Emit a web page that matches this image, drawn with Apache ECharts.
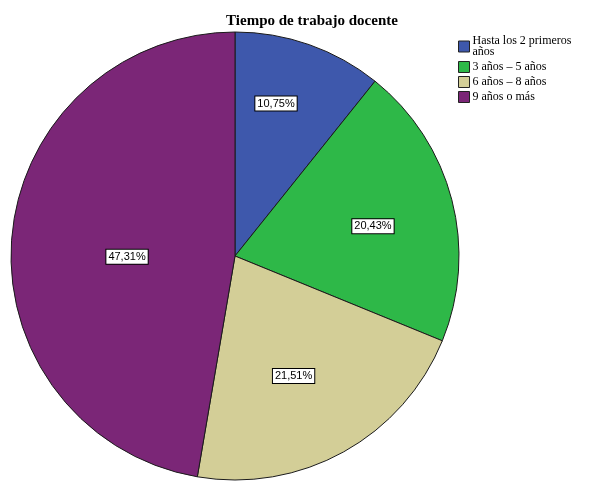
<!DOCTYPE html>
<html>
<head>
<meta charset="utf-8">
<script src="https://cdn.jsdelivr.net/npm/echarts@6/dist/echarts.min.js"></script>
<style>
  html, body { margin: 0; padding: 0; background: #fff; }
  #chart { width: 600px; height: 483px; }
</style>
</head>
<body>
<div id="chart"></div>
<script>
// categorias y porcentajes
var categorias = ['Hasta los 2 primeros años', '3 años – 5 años', '6 años – 8 años', '9 años o más'];
var porcentajes = [10.75, 20.43, 21.51, 47.31];
var colores = ['#3E58AC', '#2EB848', '#D3CE97', '#7B2677'];

var chart = echarts.init(document.getElementById('chart'));

var datos = [];
for (var i = 0; i < categorias.length; i++) {
    datos.push({ name: categorias[i], value: porcentajes[i] });
}

var cx = 235, cy = 256, radio = 224;
// ubicacion de las etiquetas como en SPSS: radio relativo y giro (grados) respecto al angulo medio
var radioEtiqueta = [0.705, 0.63, 0.596, 0.482];
var giroEtiqueta = [-4.3, 2.4, 3.0, -5.2];

// angulo medio de cada porcion, desde las 12 en sentido horario
var total = 0;
for (var i = 0; i < porcentajes.length; i++) total += porcentajes[i];
var angMedio = [];
var acum = 0;
for (var i = 0; i < porcentajes.length; i++) {
    angMedio.push((acum + porcentajes[i] / 2) / total * 360);
    acum += porcentajes[i];
}

option = {
    animation: false,
    color: colores,
    title: {
        text: 'Tiempo de trabajo docente',
        left: 307,
        textAlign: 'center',
        top: 9,
        textStyle: {
            fontFamily: 'Liberation Serif',
            fontSize: 15,
            fontWeight: 'bold',
            color: '#000'
        }
    },
    legend: {
        orient: 'vertical',
        left: 458,
        top: 35,
        padding: 0,
        itemWidth: 11,
        itemHeight: 11,
        itemGap: 3,
        icon: 'rect',
        itemStyle: {
            borderColor: '#222',
            borderWidth: 1
        },
        formatter: function (name) {
            return name.replace('primeros ', 'primeros\n');
        },
        textStyle: {
            fontFamily: 'Liberation Serif',
            fontSize: 12,
            lineHeight: 11,
            color: '#000',
            padding: [0, 0, 0, -2]
        },
        data: categorias
    },
    series: [
        {
            type: 'pie',
            center: [cx, cy],
            radius: radio,
            startAngle: 90,
            clockwise: true,
            avoidLabelOverlap: false,
            itemStyle: {
                borderColor: '#1a1a1a',
                borderWidth: 1
            },
            label: {
                show: true,
                position: 'inside',
                formatter: function (p) {
                    return p.value.toFixed(2).replace('.', ',') + '%';
                },
                fontFamily: 'Liberation Sans',
                fontSize: 11,
                color: '#000',
                backgroundColor: '#fff',
                borderColor: '#000',
                borderWidth: 1,
                padding: [2, 2, 1, 2]
            },
            labelLine: { show: false },
            labelLayout: function (params) {
                var k = params.dataIndex;
                var a = (angMedio[k] + giroEtiqueta[k]) * Math.PI / 180;
                var r = radio * radioEtiqueta[k];
                return {
                    x: cx + r * Math.sin(a),
                    y: cy - r * Math.cos(a),
                    align: 'center',
                    verticalAlign: 'middle'
                };
            },
            emphasis: { disabled: true },
            data: datos
        }
    ]
};

chart.setOption(option);
</script>
</body>
</html>
